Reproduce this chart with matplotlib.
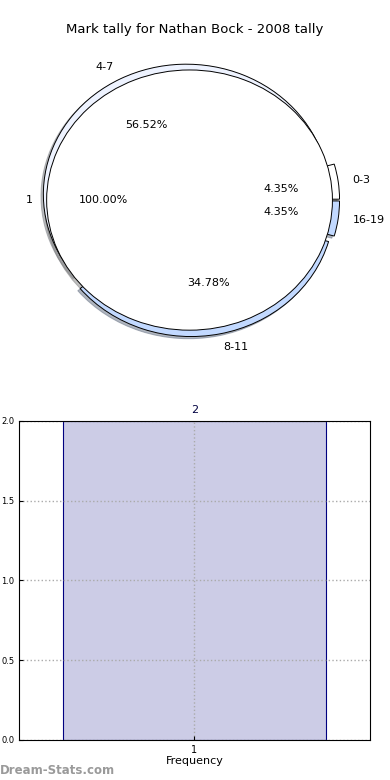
import numpy as np
from matplotlib import pyplot as plt

title = "Mark tally for Nathan Bock - 2008 tally"

# outer ring: mark ranges
ranges = ["0-3", "4-7", "8-11", "16-19"]
range_counts = [1, 13, 8, 1]
range_colors = ["#ffffff", "#eef3ff", "#c2d9ff", "#c2d9ff"]

# inner pie: number of tallies
inner_labels = ["1"]
inner_counts = [1]

# bar chart
freq_labels = ["1"]
freq_values = [2]

fig = plt.figure(figsize=(3.9, 7.8), dpi=100)

ax1 = fig.add_axes([0.028, 0.535, 0.916, 0.417])
ax1.pie(range_counts, labels=ranges, colors=range_colors, autopct="%.2f%%",
        explode=[0.05] * len(ranges), radius=1.0, startangle=0,
        shadow={"ox": -0.012, "oy": -0.012, "shade": 0.5},
        wedgeprops=dict(edgecolor="black", linewidth=0.7),
        textprops=dict(fontsize=8))
ax1.pie(inner_counts, labels=inner_labels, colors=["white"], autopct="%.2f%%",
        radius=1.0, startangle=0,
        shadow={"ox": -0.012, "oy": -0.012, "shade": 0.5},
        wedgeprops=dict(edgecolor="black", linewidth=0.7),
        textprops=dict(fontsize=8))
ax1.set_aspect("auto")
ax1.set_xlim(-1.25, 1.25)
ax1.set_ylim(-1.25, 1.25)
ax1.axis("off")
fig.text(0.5, 0.962, title, ha="center", va="center", fontsize=9.5)

ax2 = fig.add_axes([0.0487, 0.0513, 0.9, 0.409])
x = np.arange(1, len(freq_values) + 1)
bars = ax2.bar(x, freq_values, width=0.75, color="#ccccE6", edgecolor="navy",
               linewidth=0.8, zorder=2)
for b, v in zip(bars, freq_values):
    ax2.text(b.get_x() + b.get_width() / 2, v + 0.04, str(v), ha="center",
             va="bottom", fontsize=8, color="#000040")
ax2.set_xlim(0.5, len(freq_values) + 0.5)
ax2.set_ylim(0, max(freq_values))
ax2.set_xticks(x)
ax2.set_xticklabels(freq_labels)
ax2.set_yticks([0.0, 0.5, 1.0, 1.5, 2.0])
ax2.set_yticklabels(["0.0", "0.5", "1.0", "1.5", "2.0"])
ax2.tick_params(labelsize=6, length=3, direction="in")
ax2.tick_params(axis="x", labelsize=7)
ax2.grid(True, linestyle=":", color="#aaaaaa", linewidth=1)
ax2.set_axisbelow(False)
for s in ax2.spines.values():
    s.set_zorder(4)
ax2.set_xlabel("Frequency", fontsize=8, labelpad=1)

fig.text(0.0, 0.004, "Dream-Stats.com", fontsize=8.5, color="#9a9a9a",
         ha="left", va="bottom", fontweight="bold")

fig.savefig("out.png", dpi=100)
